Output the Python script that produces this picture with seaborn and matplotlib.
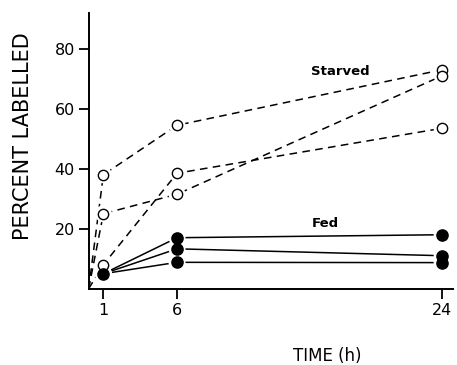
import pandas as pd
import numpy as np
import matplotlib
matplotlib.use("Agg")
import matplotlib.pyplot as plt
import seaborn as sns

# values
time_starved = [0, 1, 6, 24]
starved_a = [0, 38, 54.5, 73]
starved_b = [0, 25, 31.5, 71]
starved_c = [0, 8, 38.5, 53.5]

time_fed = [1, 6, 24]
fed_a = [5, 17, 18]
fed_b = [5, 13.3, 11]
fed_c = [5, 8.8, 8.7]

x_ticks = [1, 6, 24]
y_ticks = [20, 40, 60, 80]

rows = []
for name, vals in [("s1", starved_a), ("s2", starved_b), ("s3", starved_c)]:
    for t, v in zip(time_starved, vals):
        rows.append({"time": t, "pct": v, "group": "Starved", "rep": name})
for name, vals in [("f1", fed_a), ("f2", fed_b), ("f3", fed_c)]:
    for t, v in zip(time_fed, vals):
        rows.append({"time": t, "pct": v, "group": "Fed", "rep": name})
df = pd.DataFrame(rows)

sns.set_style("ticks")
plt.rcParams["font.family"] = ["DejaVu Sans"]
plt.rcParams["text.color"] = "black"
plt.rcParams["axes.labelcolor"] = "black"
plt.rcParams["xtick.color"] = "black"
plt.rcParams["ytick.color"] = "black"
plt.rcParams["axes.edgecolor"] = "black"

fig = plt.figure(figsize=(4.57, 3.65), dpi=100)
ax = fig.add_axes([0.194, 0.209, 0.797, 0.756])

sns.lineplot(data=df, x="time", y="pct", units="rep", estimator=None,
             style="group", dashes={"Starved": (5, 3.5), "Fed": ""},
             color="black", linewidth=1.1, sort=False, legend=False, ax=ax)

pts = df[df["time"] > 0]
st = pts[pts["group"] == "Starved"]
fd = pts[pts["group"] == "Fed"].drop_duplicates(subset=["time", "pct"])

# white halo so lines stop short of the markers
sns.scatterplot(data=pts, x="time", y="pct", s=150, color="white",
                edgecolor="none", zorder=3, legend=False, ax=ax)
sns.scatterplot(data=st, x="time", y="pct", s=55, color="white",
                edgecolor="black", linewidth=1.0, zorder=4, legend=False, ax=ax)
sns.scatterplot(data=fd, x="time", y="pct", s=65, color="black",
                edgecolor="black", linewidth=1.0, zorder=4, legend=False, ax=ax)

ax.text(17.1, 72.5, "Starved", fontsize=9.5, fontweight="bold", ha="center", va="center")
ax.text(16.1, 21.8, "Fed", fontsize=9.5, fontweight="bold", ha="center", va="center")

ax.set_xlim(0, 24.73)
ax.set_ylim(0, 92)
ax.set_xticks(x_ticks)
ax.set_yticks(y_ticks)
ax.tick_params(axis="both", direction="out", length=7, width=1.3, labelsize=11.5, pad=3)
for s in ["left", "bottom"]:
    ax.spines[s].set_linewidth(1.4)
sns.despine(ax=ax)

ax.set_xlabel("TIME (h)", fontsize=12)
ax.set_ylabel("PERCENT LABELLED", fontsize=15)
ax.xaxis.set_label_coords(0.654, -0.212)
ax.yaxis.set_label_coords(-0.153, 0.553)

fig.savefig("out.png", dpi=100)
